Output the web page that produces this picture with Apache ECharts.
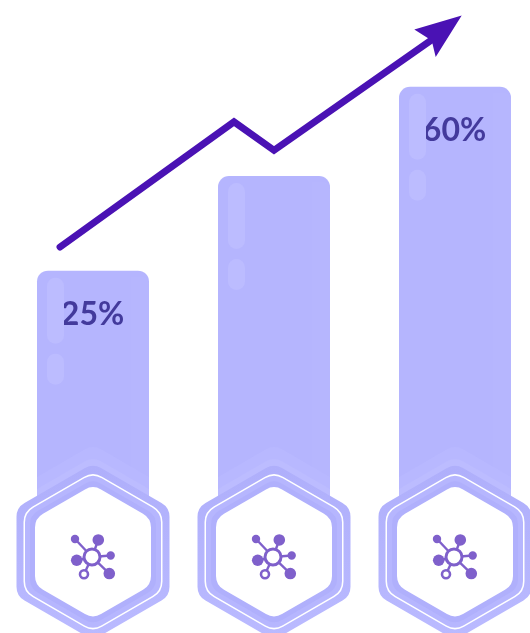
<!DOCTYPE html>
<html>
<head>
<meta charset="utf-8">
<style>html,body{margin:0;padding:0;background:#fff}#chart{width:530px;height:633px}</style>
<script src="https://cdn.jsdelivr.net/npm/echarts@6/dist/echarts.min.js"></script>
</head>
<body>
<div id="chart"></div>
<script>
// Share of each stage, shown on the bars
const categories = ['A', 'B', 'C'];
const shares = [25, 43, 60];
const shareLabels = ['25%', '', '60%'];
// Bars continue below zero down to the hexagon badges
const pedestal = [-20, -20, -20];
const badgeLevel = [-28.5, -28.5, -28.5];
// Trend arrow: position along the category axis, and level
const trendX = [-0.182, 0.779, 1, 1.871];
const trendY = [29.5, 53.3, 47.9, 68.9];
const arrowTip = [2.037, 73.55];

const BAR = '#b5b5fe', HILITE = '#bcbcff', ARROW = '#4a12b4', INK = '#433a9c', ICON = '#7f60cb';

const chart = echarts.init(document.getElementById('chart'), null, { renderer: 'canvas' });

// Pointy-top hexagon with rounded corners: a = half flat-to-flat width, r = corner radius
function hexagon(cx, cy, a, r, color) {
  const R = (a - r) * 2 / Math.sqrt(3), pts = [];
  for (let i = 0; i < 6; i++) {
    const t = Math.PI / 3 * i - Math.PI / 2;
    pts.push([cx + R * Math.cos(t), cy + R * Math.sin(t)]);
  }
  return {
    type: 'polygon', shape: { points: pts },
    style: { fill: color, stroke: color, lineWidth: 2 * r, lineJoin: 'round' }
  };
}

function vertical(top, bottom) {
  return new echarts.graphic.LinearGradient(0, 0, 0, 1, [
    { offset: 0, color: top }, { offset: 1, color: bottom }
  ]);
}

function dot(x, y, r, color) {
  return { type: 'circle', shape: { cx: x, cy: y, r: r }, style: { fill: color } };
}
function ring(x, y, r, w) {
  return { type: 'circle', shape: { cx: x, cy: y, r: r }, style: { fill: '#fff', stroke: ICON, lineWidth: w } };
}
function spoke(x1, y1, x2, y2) {
  return { type: 'line', shape: { x1, y1, x2, y2 }, style: { stroke: ICON, lineWidth: 2.4 } };
}

// Soft highlights, side strip and glow chevrons on each bar
function renderBarDetail(params, api) {
  const top = api.coord([api.value(0), api.value(1)]);
  const x = top[0] - 56, y = top[1];
  const cx = top[0];
  const base = api.coord([api.value(0), badgeLevel[0]])[1];
  const zero = api.coord([api.value(0), 0])[1];
  const glow = {
    type: 'group',
    clipPath: { type: 'rect', shape: { x: x, y: base - 130, width: 112, height: 130 } },
    children: [
      hexagon(cx, base, 92.7, 16, '#b8b8ff'),
      hexagon(cx, base, 82.3, 16, '#bcbcff')
    ]
  };
  return {
    type: 'group',
    children: [
      { type: 'rect', shape: { x: x, y: zero - 2, width: 112, height: 4 }, style: { fill: BAR } },
      { type: 'rect', shape: { x: x + 94, y: y + 6, width: 18, height: base - y - 6, r: [0, 8, 0, 0] },
        style: { fill: '#b9b9ff', opacity: 0.4 } },
      { type: 'rect', shape: { x: x + 10, y: y + 7, width: 17, height: 66, r: 8.5 }, style: { fill: HILITE } },
      { type: 'rect', shape: { x: x + 10, y: y + 83, width: 17, height: 31, r: 8.5 }, style: { fill: HILITE } },
      glow
    ]
  };
}

// Hexagon badge with the network icon
function renderBadge(params, api) {
  const p = api.coord([api.value(0), api.value(1)]);
  const cx = p[0], cy = p[1], ix = cx - 1, iy = cy + 5.2;
  return {
    type: 'group',
    children: [
      hexagon(cx, cy, 76.5, 16, vertical('#afaffb', '#babaff')),
      hexagon(cx, cy, 69.5, 18, '#ffffff'),
      hexagon(cx, cy, 68, 17.5, '#b6b6fe'),
      hexagon(cx, cy, 63, 16, '#b0b0fc'),
      hexagon(cx, cy, 58, 16, '#ffffff'),
      spoke(ix, iy, ix - 17, iy - 18),
      spoke(ix, iy, ix + 6.3, iy - 17),
      spoke(ix, iy, ix + 18.7, iy - 1.4),
      spoke(ix, iy, ix + 17.3, iy + 16.6),
      spoke(ix, iy, ix - 8, iy + 17.3),
      spoke(ix, iy, ix - 15.3, iy + 3.3),
      ring(ix, iy, 8, 3),
      dot(ix - 17, iy - 18, 4.2, ICON),
      dot(ix + 6.3, iy - 17, 5.8, ICON),
      dot(ix + 18.7, iy - 1.4, 4.2, ICON),
      dot(ix + 17.3, iy + 16.6, 5.8, ICON),
      dot(ix - 15.3, iy + 3.3, 5.8, ICON),
      ring(ix - 8, iy + 17.3, 4, 2.6)
    ]
  };
}

// Notched arrowhead placed at the tip of the trend line
function renderArrowHead(params, api) {
  const p = api.coord([api.value(0), api.value(1)]);
  return {
    type: 'polygon',
    shape: { points: [p, [p[0] - 47.4, p[1] + 14], [p[0] - 30, p[1] + 25], [p[0] - 26, p[1] + 41.5]] },
    style: { fill: ARROW }
  };
}

chart.setOption({
  animation: false,
  backgroundColor: '#ffffff',
  grid: { left: 2.5, top: 0, width: 543, height: 633, outerBoundsMode: 'none' },
  xAxis: [
    { type: 'category', data: categories, show: false },
    { type: 'value', min: -0.5, max: 2.5, show: false, splitLine: { show: false } }
  ],
  yAxis: { type: 'value', min: -43.96, max: 76.5, show: false, splitLine: { show: false } },
  series: [
    {
      name: 'Share', type: 'bar', stack: 'bars', barWidth: 112, z: 2,
      data: shares,
      itemStyle: { color: BAR, borderRadius: [11, 11, 0, 0] },
      label: {
        show: true, position: 'insideTop', distance: 28, offset: [-0.5, 0],
        formatter: function (p) { return shareLabels[p.dataIndex]; },
        fontFamily: 'Lato', fontWeight: 700, fontSize: 32, color: INK
      }
    },
    {
      name: 'Base', type: 'bar', stack: 'bars', barWidth: 112, z: 2,
      data: pedestal, itemStyle: { color: BAR }, silent: true
    },
    {
      name: 'Detail', type: 'custom', z: 3, silent: true,
      renderItem: renderBarDetail,
      encode: { x: 0, y: 1 },
      data: categories.map(function (c, i) { return [i, shares[i]]; })
    },
    {
      name: 'Badge', type: 'custom', z: 5, silent: true,
      renderItem: renderBadge,
      encode: { x: 0, y: 1 },
      data: categories.map(function (c, i) { return [i, badgeLevel[i]]; })
    },
    {
      name: 'Trend', type: 'line', xAxisIndex: 1, z: 6, silent: true,
      data: trendX.map(function (x, i) { return [x, trendY[i]]; }),
      symbol: 'none', smooth: false,
      lineStyle: { color: ARROW, width: 7, cap: 'round', join: 'miter' }
    },
    {
      name: 'Arrow', type: 'custom', xAxisIndex: 1, z: 7, silent: true,
      renderItem: renderArrowHead,
      encode: { x: 0, y: 1 },
      data: [arrowTip]
    }
  ]
});
</script>
</body>
</html>
